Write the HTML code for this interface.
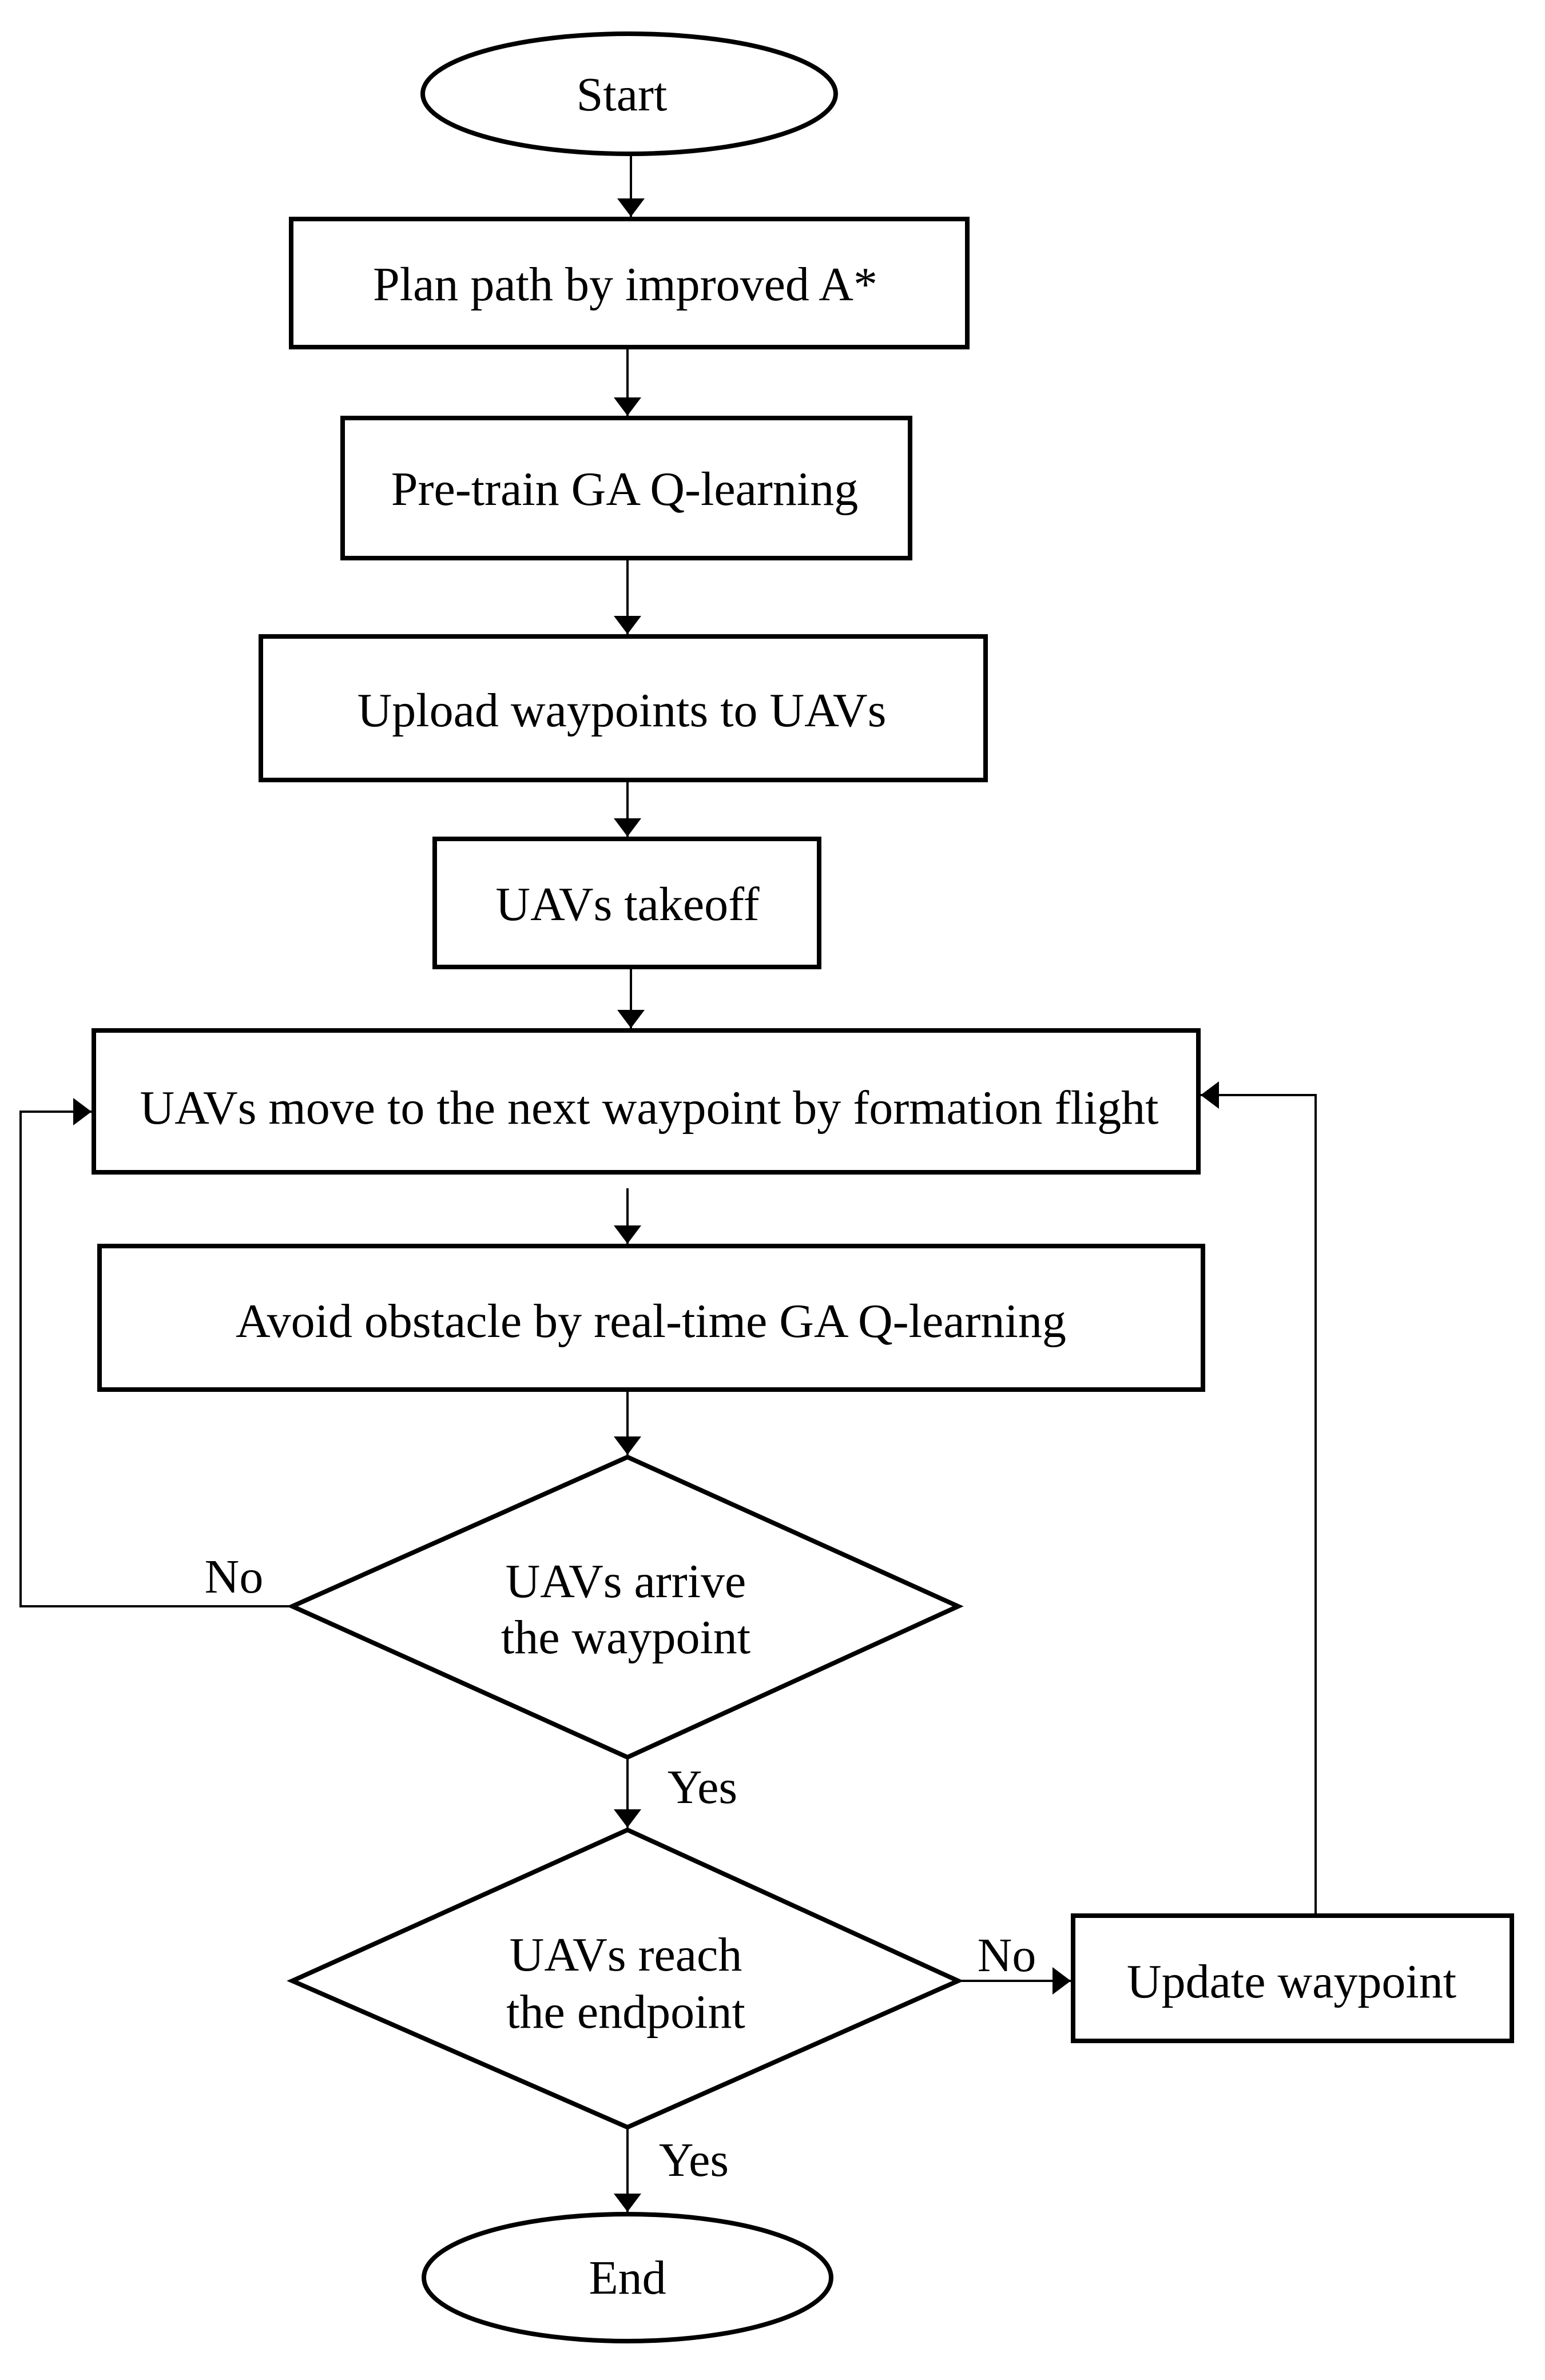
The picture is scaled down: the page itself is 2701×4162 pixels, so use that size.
<!DOCTYPE html>
<html><head><meta charset="utf-8"><style>html,body{margin:0;padding:0;background:#fff}svg{display:block}</style></head>
<body>
<svg width="2701" height="4162" viewBox="0 0 2701 4162" xmlns="http://www.w3.org/2000/svg">
<defs>
<marker id="b" viewBox="0 0 10 10" refX="10" refY="5" markerWidth="32" markerHeight="48" orient="auto" markerUnits="userSpaceOnUse" preserveAspectRatio="none"><path d="M0,0 L10,5 L0,10 z" fill="#000"/></marker></defs>
<g fill="#fff" stroke="#000" stroke-width="8">
<ellipse cx="1100" cy="164" rx="361" ry="105"/>
<rect x="509" y="383" width="1182" height="224"/>
<rect x="599" y="731" width="992" height="245"/>
<rect x="456" y="1113" width="1267" height="251"/>
<rect x="760" y="1467" width="672" height="224"/>
<rect x="164" y="1802" width="1931" height="248"/>
<rect x="174" y="2179" width="1929" height="251"/>
<polygon points="1097,2548 1675,2809 1097,3073 511,2809"/>
<polygon points="1097,3200 1675,3464 1097,3720 511,3464"/>
<rect x="1876" y="3350" width="767" height="219"/>
<ellipse cx="1097" cy="3983" rx="356" ry="111"/>
</g>
<g stroke="#000" stroke-width="4" fill="none">
<line x1="1103" y1="269" x2="1103" y2="379" marker-end="url(#b)"/>
<line x1="1097" y1="607" x2="1097" y2="727" marker-end="url(#b)"/>
<line x1="1097" y1="976" x2="1097" y2="1109" marker-end="url(#b)"/>
<line x1="1097" y1="1364" x2="1097" y2="1463" marker-end="url(#b)"/>
<line x1="1103" y1="1691" x2="1103" y2="1798" marker-end="url(#b)"/>
<line x1="1097" y1="2078" x2="1097" y2="2175" marker-end="url(#b)"/>
<line x1="1097" y1="2430" x2="1097" y2="2544" marker-end="url(#b)"/>
<line x1="1097" y1="3073" x2="1097" y2="3196" marker-end="url(#b)"/>
<line x1="1097" y1="3720" x2="1097" y2="3868" marker-end="url(#b)"/>
<polyline points="511,2809 36,2809 36,1944 160,1944" marker-end="url(#b)"/>
<polyline points="2300,3350 2300,1915 2099,1915" marker-end="url(#b)"/>
<line x1="1675" y1="3464" x2="1872" y2="3464" marker-end="url(#b)"/>
</g>
<g font-family="Liberation Serif, serif" font-size="84" text-anchor="middle" fill="#000">
<text x="1087" y="193">Start</text>
<text x="1093" y="525">Plan path by improved A*</text>
<text x="1092" y="883">Pre-train GA Q-learning</text>
<text x="1087" y="1270">Upload waypoints to UAVs</text>
<text x="1097" y="1609">UAVs takeoff</text>
<text x="1135" y="1965">UAVs move to the next waypoint by formation flight</text>
<text x="1138" y="2338">Avoid obstacle by real-time GA Q-learning</text>
<text x="1094" y="2793">UAVs arrive</text>
<text x="1094" y="2891">the waypoint</text>
<text x="1094" y="3446">UAVs reach</text>
<text x="1094" y="3546">the endpoint</text>
<text x="2258" y="3493">Update waypoint</text>
<text x="1097" y="4011">End</text>
<text x="409" y="2785">No</text>
<text x="1228" y="3153">Yes</text>
<text x="1760" y="3447">No</text>
<text x="1213" y="3805">Yes</text>
</g>
</svg>
</body></html>
